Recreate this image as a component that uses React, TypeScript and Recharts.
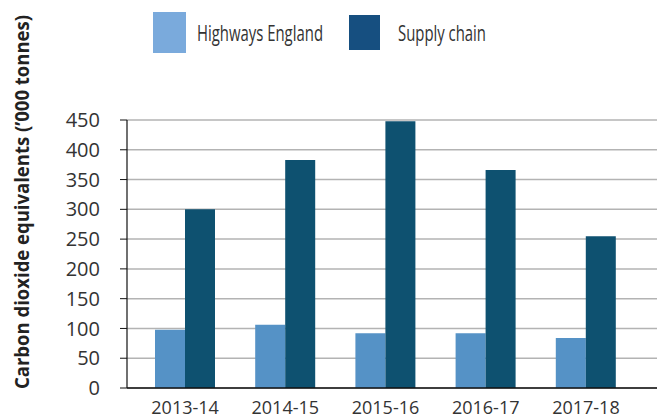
import React from 'react';
import { BarChart, Bar, XAxis, YAxis, CartesianGrid, Legend } from 'recharts';

const years = ['2013-14', '2014-15', '2015-16', '2016-17', '2017-18'];
const highwaysEngland = [98, 106, 92, 92, 84];
const supplyChain = [300, 383, 448, 366, 255];
const yTicks = [0, 50, 100, 150, 200, 250, 300, 350, 400, 450];

const data = years.map((year, i) => ({
  year,
  highways: highwaysEngland[i],
  supply: supplyChain[i],
}));

const FONT = '"Open Sans", "Noto Sans", sans-serif';

// legend drawn by hand so the swatches match the reference's sizes
const renderLegend = () => (
  <svg width={657} height={70} style={{ display: 'block' }}>
    <rect x={153} y={12} width={33} height={41} fill="#7aaadc" />
    <text x={197} y={41} fontSize={22} fill="#333" fontFamily={FONT} textLength={126} lengthAdjust="spacingAndGlyphs">
      Highways England
    </text>
    <rect x={349} y={15} width={31} height={35} fill="#164f80" />
    <text x={398} y={41} fontSize={22} fill="#333" fontFamily={FONT} textLength={88} lengthAdjust="spacingAndGlyphs">
      Supply chain
    </text>
  </svg>
);

const renderYLabel = () => (
  <text
    transform="translate(29, 202) rotate(-90)"
    textAnchor="middle"
    fontSize={19}
    fontWeight={700}
    fill="#222"
    fontFamily={FONT}
    textLength={374}
    lengthAdjust="spacingAndGlyphs"
  >
    Carbon dioxide equivalents (’000 tonnes)
  </text>
);

const App: React.FC = () => {
  return (
    <div style={{ position: 'absolute', left: 0, top: 0, width: 657, height: 420, background: '#fff' }}>
      <BarChart
        width={657}
        height={420}
        data={data}
        margin={{ top: 50, right: 0, bottom: 2, left: 67 }}
        barGap={0}
        barCategoryGap="20%"
      >
        <CartesianGrid vertical={false} stroke="#b3b3b3" strokeWidth={1.5} />
        <XAxis
          dataKey="year"
          height={30}
          axisLine={{ stroke: '#111', strokeWidth: 1.5 }}
          tickLine={false}
          tickMargin={7}
          padding={{ left: 8, right: 21 }}
          tick={{ fontSize: 18, fill: '#333', fontFamily: FONT }}
        />
        <YAxis
          width={60}
          domain={[0, 450]}
          ticks={yTicks}
          interval={0}
          axisLine={{ stroke: '#111', strokeWidth: 1.2 }}
          tickLine={{ stroke: '#111' }}
          tickSize={7}
          tickMargin={20}
          tick={{ fontSize: 20, fill: '#333', fontFamily: FONT }}
          label={{ content: renderYLabel }}
        />
        <Legend verticalAlign="top" align="left" content={renderLegend} wrapperStyle={{ top: 0, left: 0 }} />
        <Bar dataKey="highways" name="Highways England" fill="#5592c6" barSize={30} isAnimationActive={false} />
        <Bar dataKey="supply" name="Supply chain" fill="#0e5170" barSize={30} isAnimationActive={false} />
      </BarChart>
    </div>
  );
};

export default App;
